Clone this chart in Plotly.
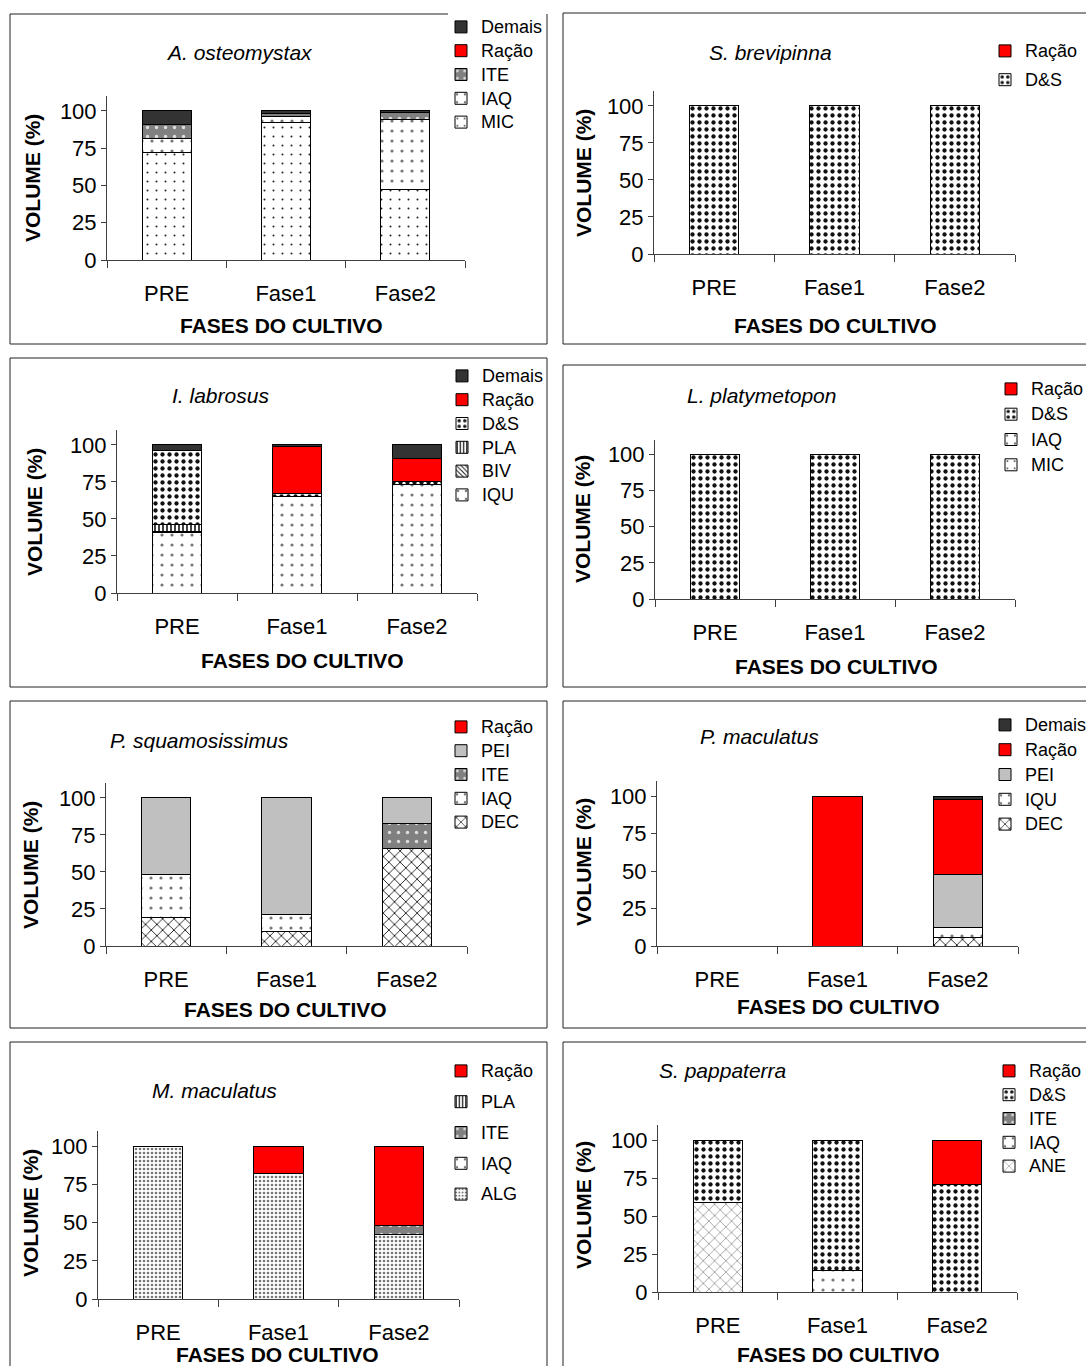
import plotly.graph_objects as go

W, H = 1086, 1366
FONT = "Liberation Sans, Arial, sans-serif"

fases = ["PRE", "Fase1", "Fase2"]
y_ticks = [0, 25, 50, 75, 100]

# ---- data: stacking order bottom -> top (values in % volume) ----
a_osteomystax = {"MIC": [72, 92, 47], "IAQ": [9.5, 4.5, 47], "ITE": [9.5, 1.5, 5],
                 "Ração": [0, 0, 0], "Demais": [9, 2, 1]}
s_brevipinna = {"D&S": [100, 100, 100], "Ração": [0, 0, 0]}
i_labrosus = {"IQU": [41, 65, 73], "BIV": [0.5, 0, 0], "PLA": [4.5, 0, 0],
              "D&S": [50, 2, 2], "Ração": [0, 32, 15.5], "Demais": [4, 1, 9.5]}
l_platymetopon = {"MIC": [0, 0, 0], "IAQ": [0, 0, 0], "D&S": [100, 100, 100], "Ração": [0, 0, 0]}
p_squamosissimus = {"DEC": [19, 9.5, 66], "IAQ": [29, 12, 0], "ITE": [0, 0, 16.5],
                    "PEI": [52, 78.5, 17.5], "Ração": [0, 0, 0]}
p_maculatus = {"DEC": [0, 0, 6], "IQU": [0, 0, 6.5], "PEI": [0, 0, 35.5],
               "Ração": [0, 100, 50], "Demais": [0, 0, 2]}
m_maculatus = {"ALG": [100, 82.5, 42], "IAQ": [0, 0, 0], "ITE": [0, 0, 6],
               "PLA": [0, 0, 0], "Ração": [0, 17.5, 52]}
s_pappaterra = {"ANE": [59, 0, 0], "IAQ": [0, 14, 0], "ITE": [0, 0, 0],
                "D&S": [41, 86, 71], "Ração": [0, 0, 29]}

# ---- styles per food category ----
STYLE = {
    "Demais": dict(bg="#333333", fg="#333333", shape="", size=8, sol=0.3),
    "Ração": dict(bg="#FF0000", fg="#FF0000", shape="", size=8, sol=0.3),
    "ITE": dict(bg="#808080", fg="#DDDDDD", shape=".", size=9, sol=0.12),
    "IAQ": dict(bg="#FFFFFF", fg="#777777", shape=".", size=10, sol=0.08),
    "IQU": dict(bg="#FFFFFF", fg="#777777", shape=".", size=10, sol=0.08),
    "MIC": dict(bg="#FFFFFF", fg="#222222", shape=".", size=9, sol=0.04),
    "D&S": dict(bg="#FFFFFF", fg="#111111", shape=".", size=7, sol=0.3),
    "PLA": dict(bg="#FFFFFF", fg="#111111", shape="|", size=4, sol=0.4),
    "BIV": dict(bg="#FFFFFF", fg="#111111", shape="\\", size=4, sol=0.3),
    "PEI": dict(bg="#C0C0C0", fg="#C0C0C0", shape="", size=8, sol=0.3),
    "DEC": dict(bg="#FFFFFF", fg="#222222", shape="x", size=8, sol=0.22),
    "ALG": dict(bg="#FFFFFF", fg="#777777", shape=".", size=4, sol=0.35),
    "ANE": dict(bg="#FFFFFF", fg="#777777", shape="x", size=8, sol=0.15),
}

# ---- panel layout (pixel geometry in the page) ----
panels = [
    dict(title="A. osteomystax", data=a_osteomystax, box=(10, 14, 547, 344), topcut=448,
         xd=(107, 465), yd=(96, 260), leg=(441, 10), gap=0, tpos=(239, 52),
         xt=(281, 325), yt=(32, 178)),
    dict(title="S. brevipinna", data=s_brevipinna, box=(563, 13, 1092, 344),
         xd=(654, 1015), yd=(91, 254), leg=(985, 34), gap=5, tpos=(770, 52),
         xt=(835, 325), yt=(583, 173)),
    dict(title="I. labrosus", data=i_labrosus, box=(10, 358, 547, 687),
         xd=(117, 477), yd=(430, 593), leg=(442, 359), gap=0, tpos=(220, 396),
         xt=(302, 660), yt=(34, 512)),
    dict(title="L. platymetopon", data=l_platymetopon, box=(563, 365, 1092, 687),
         xd=(655, 1015), yd=(440, 599), leg=(991, 372), gap=1.5, tpos=(761, 395),
         xt=(836, 666), yt=(583, 519)),
    dict(title="P. squamosissimus", data=p_squamosissimus, box=(10, 701, 547, 1028),
         xd=(106, 467), yd=(783, 946), leg=(441, 710), gap=0, tpos=(199, 740),
         xt=(285, 1009), yt=(30, 865)),
    dict(title="P. maculatus", data=p_maculatus, box=(563, 701, 1092, 1028),
         xd=(657, 1018), yd=(781, 946), leg=(985, 708), gap=1, tpos=(759, 736),
         xt=(838, 1007), yt=(583, 862)),
    dict(title="M. maculatus", data=m_maculatus, box=(10, 1042, 547, 1380),
         xd=(98, 459), yd=(1131, 1299), leg=(441, 1054), gap=7, tpos=(214, 1090),
         xt=(277, 1354), yt=(30, 1213)),
    dict(title="S. pappaterra", data=s_pappaterra, box=(563, 1042, 1092, 1380),
         xd=(658, 1017), yd=(1125, 1292), leg=(989, 1054), gap=0, tpos=(722, 1070),
         xt=(838, 1354), yt=(583, 1205)),
]


def px(x):
    return x / W


def py(y):
    return 1 - y / H


def line(x0, y0, x1, y1):
    return dict(type="line", xref="paper", yref="paper",
                x0=px(x0), y0=py(y0), x1=px(x1), y1=py(y1),
                line=dict(color="#222222", width=1), layer="below")


fig = go.Figure()
layout = dict(
    width=W, height=H,
    margin=dict(l=0, r=0, t=0, b=0, autoexpand=False),
    paper_bgcolor="white", plot_bgcolor="white",
    barmode="stack", bargap=0.59,
    showlegend=True,
    font=dict(family=FONT, color="black"),
)
shapes = []
annotations = []

for i, p in enumerate(panels, start=1):
    sfx = "" if i == 1 else str(i)
    xref, yref, legref = "x" + sfx, "y" + sfx, "legend" + sfx
    n_series = len(p["data"])
    for k, (name, vals) in enumerate(p["data"].items()):
        st = STYLE[name]
        fig.add_trace(go.Bar(
            x=fases, y=vals, name=f'<span style="font-size:18px">{name}</span>',
            xaxis=xref, yaxis=yref, legend=legref, legendgroup=f"p{i}_{name}",
            legendrank=100 + n_series - k,
            width=0.41,
            marker=dict(
                color=st["bg"],
                line=dict(color="black", width=1),
                pattern=dict(shape=st["shape"], bgcolor=st["bg"], fgcolor=st["fg"],
                             size=st["size"], solidity=st["sol"], fillmode="replace"),
            ),
            hoverinfo="x+y+name",
        ))
    layout["xaxis" + sfx] = dict(
        domain=[px(p["xd"][0]), px(p["xd"][1])], anchor=yref,
        type="category", categoryorder="array", categoryarray=fases,
        range=[-0.5, 2.5], showline=True, linecolor="#404040", linewidth=1,
        ticks="outside", tickson="boundaries", ticklen=7, tickcolor="#404040",
        tickfont=dict(size=22, family=FONT, color="black"), ticklabelstandoff=14,
        showgrid=False, zeroline=False, fixedrange=True,
    )
    layout["yaxis" + sfx] = dict(
        domain=[py(p["yd"][1]), py(p["yd"][0])], anchor=xref,
        range=[0, 110], tickvals=y_ticks, showline=True, linecolor="#404040",
        linewidth=1, ticks="outside", ticklen=5, tickcolor="#404040",
        tickfont=dict(size=22, family=FONT, color="black"),
        showgrid=False, zeroline=False, fixedrange=True,
    )
    layout[legref] = dict(
        x=px(p["leg"][0]), y=py(p["leg"][1]), xanchor="left", yanchor="top",
        xref="paper", yref="paper", traceorder="grouped",
        bgcolor="rgba(255,255,255,0)", borderwidth=0,
        font=dict(size=16, family=FONT, color="black"),
        tracegroupgap=p["gap"], itemclick=False, itemdoubleclick=False,
    )
    x0, y0, x1, y1 = p["box"]
    shapes.append(line(x0, y0, p.get("topcut", x1), y0))
    shapes.append(line(x1, y0, x1, y1))
    shapes.append(line(x0, y1, x1, y1))
    shapes.append(line(x0, y0, x0, y1))
    annotations.append(dict(
        text=f"<i>{p['title']}</i>", x=px(p["tpos"][0]), y=py(p["tpos"][1]),
        xref="paper", yref="paper", xanchor="center", yanchor="middle",
        showarrow=False, font=dict(size=21, family=FONT, color="black")))
    annotations.append(dict(
        text="<b>FASES DO CULTIVO</b>", x=px(p["xt"][0]), y=py(p["xt"][1]),
        xref="paper", yref="paper", xanchor="center", yanchor="middle",
        showarrow=False, font=dict(size=21, family=FONT, color="black")))
    annotations.append(dict(
        text="<b>VOLUME (%)</b>", x=px(p["yt"][0]), y=py(p["yt"][1]),
        xref="paper", yref="paper", xanchor="center", yanchor="middle",
        textangle=-90, showarrow=False,
        font=dict(size=21, family=FONT, color="black")))

layout["shapes"] = shapes
layout["annotations"] = annotations
fig.update_layout(**layout)

# the page body keeps no margin so the 1086x1366 figure fills the window exactly
fig.write_html(
    "out.html",
    config={"displayModeBar": False},
    post_script="document.body.style.margin='0px';document.body.style.overflow='hidden';",
)
